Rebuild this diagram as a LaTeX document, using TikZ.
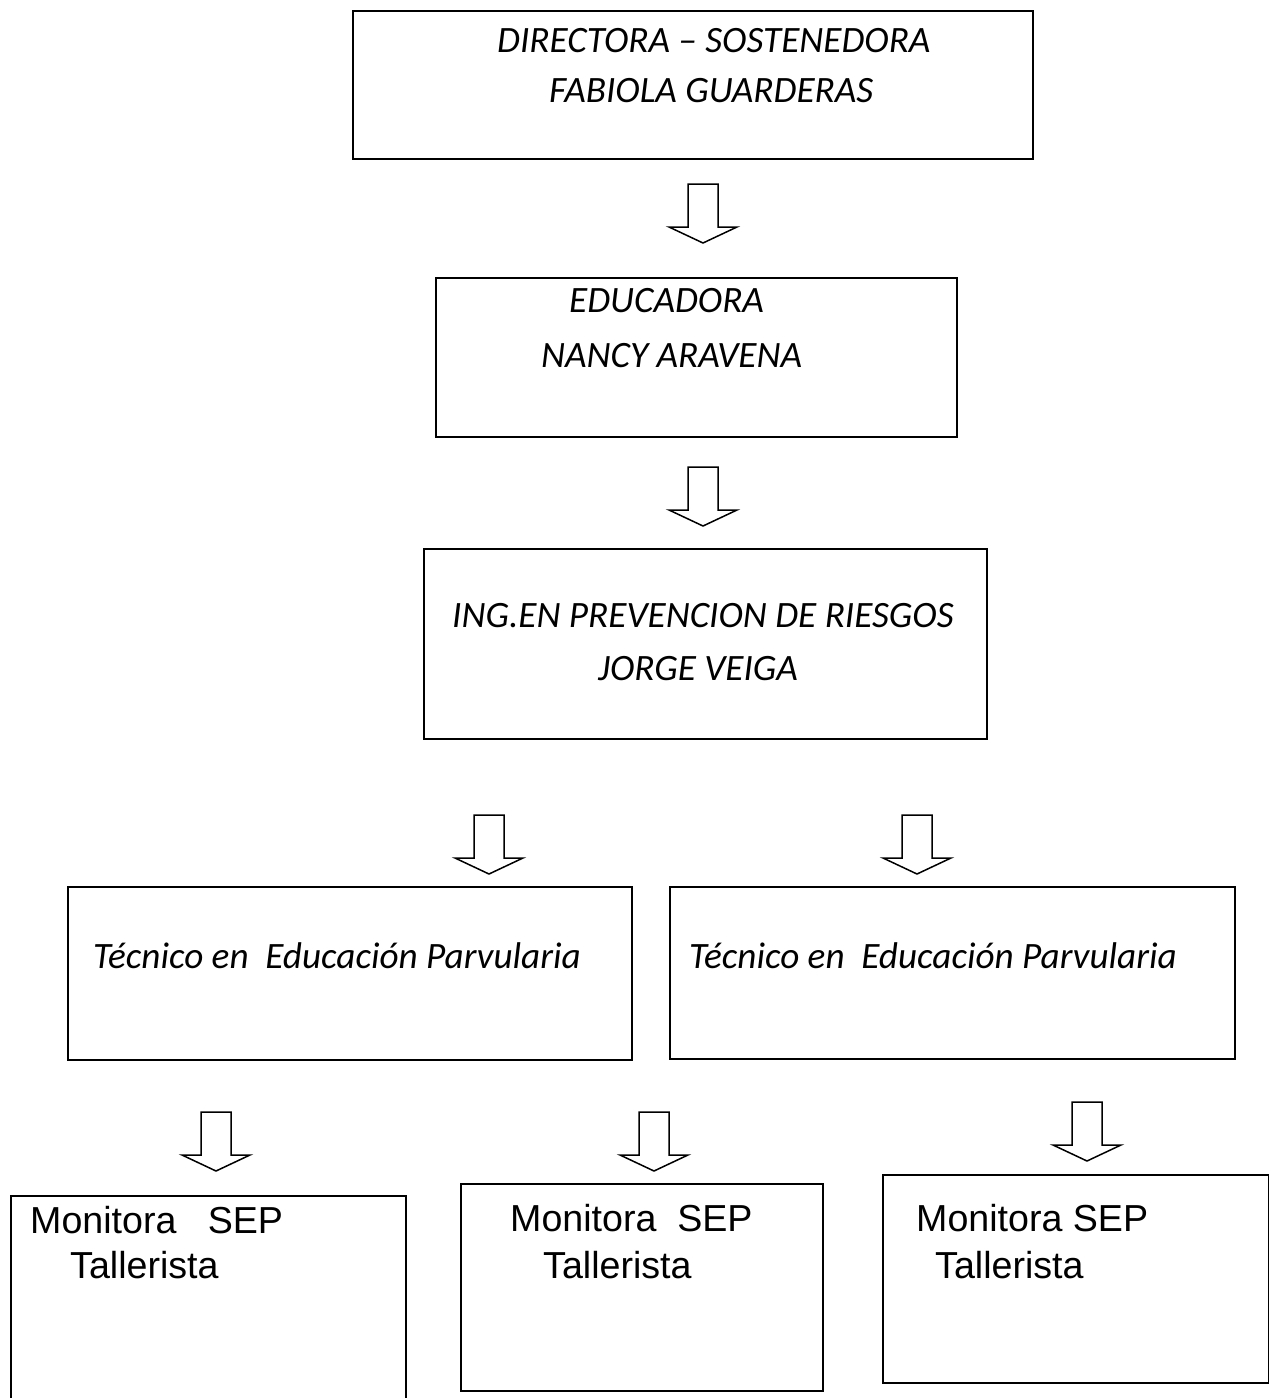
\documentclass[tikz,border=0pt]{standalone}
\usepackage{fontspec}
\setmainfont{Carlito}
\newfontfamily\arialf{Liberation Sans}
\begin{document}
\begin{tikzpicture}[x=1pt,y=-1pt,
  box/.style={draw=black, line width=1.6pt, rectangle, anchor=north west, inner sep=0pt},
  itxt/.style={anchor=base west, inner sep=0pt, font=\fontsize{37.2}{44}\selectfont\itshape},
  atxt/.style={anchor=base west, inner sep=0pt, font=\fontsize{37.6}{44}\selectfont\arialf},
  blockarrow/.pic={\draw[line width=1.5pt, line join=miter, fill=white]
     (-15,0) -- (15,0) -- (15,43) -- (34,43) -- (0,59) -- (-34,43) -- (-15,43) -- cycle;}]
\useasboundingbox (0,0) rectangle (1269,1398);
\fill[white] (0,0) rectangle (1269,1398);
% boxes
\node[box, minimum width=680pt, minimum height=148pt] (b1) at (352,10) {};
\node[box, minimum width=521pt, minimum height=159pt] (b2) at (435,277) {};
\node[box, minimum width=563pt, minimum height=190pt] (b3) at (423,548) {};
\node[box, minimum width=564pt, minimum height=173pt] (b4) at (67,886) {};
\node[box, minimum width=565pt, minimum height=172pt] (b5) at (669,886) {};
\node[box, minimum width=395pt, minimum height=210pt] (b6) at (10,1195) {};
\node[box, minimum width=362pt, minimum height=207pt] (b7) at (460,1183) {};
\node[box, minimum width=386pt, minimum height=208pt] (b8) at (882,1174) {};
% texts
\node[itxt] (t1a) at (497,52) {DIRECTORA – SOSTENEDORA};
\node[itxt] (t1b) at (549,102) {FABIOLA GUARDERAS};
\node[itxt] (t2a) at (569,312) {EDUCADORA};
\node[itxt] (t2b) at (541,367) {NANCY ARAVENA};
\node[itxt] (t3a) at (452,627) {ING.EN PREVENCION DE RIESGOS};
\node[itxt] (t3b) at (598,680) {JORGE VEIGA};
\node[itxt] (t4) at (93,968) {Técnico en\ \ Educación Parvularia};
\node[itxt] (t5) at (689,968) {Técnico en\ \ Educación Parvularia};
\node[atxt] (t6a) at (30,1233) {Monitora\ \ \ SEP};
\node[atxt] (t6b) at (70,1278) {Tallerista};
\node[atxt] (t7a) at (510,1231) {Monitora\ \ SEP};
\node[atxt] (t7b) at (543,1278) {Tallerista};
\node[atxt] (t8a) at (916,1231) {Monitora SEP};
\node[atxt] (t8b) at (935,1278) {Tallerista};
% block arrows
\coordinate (a1) at (703,184);
\coordinate (a2) at (703,467);
\coordinate (a3) at (489,815);
\coordinate (a4) at (917,815);
\coordinate (a5) at (216,1112);
\coordinate (a6) at (654,1112);
\coordinate (a7) at (1087,1102);
\foreach \a in {a1,a2,a3,a4,a5,a6,a7} { \pic at (\a) {blockarrow}; }
\end{tikzpicture}
\end{document}
